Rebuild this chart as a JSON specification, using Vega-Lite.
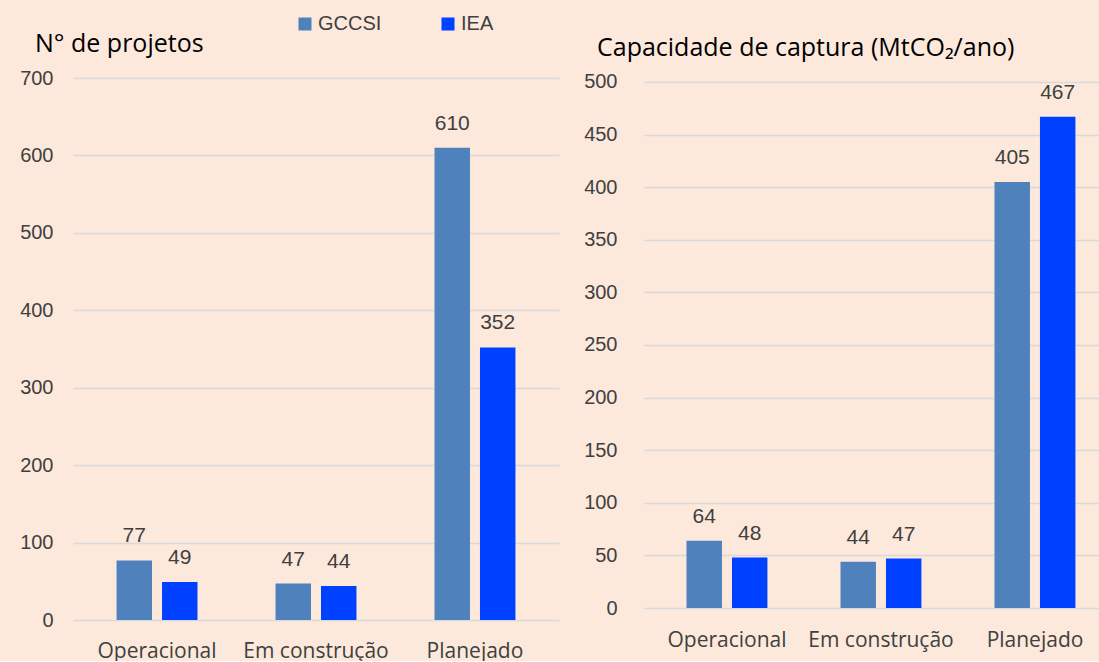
{
  "$schema": "https://vega.github.io/schema/vega-lite/v6.json",
  "background": "#FCE9DC",
  "padding": {"left": 19, "top": 14, "right": 0, "bottom": 0},
  "datasets": {
    "proj": [
      {"status": "Operacional", "fonte": "GCCSI", "valor": 77},
      {"status": "Operacional", "fonte": "IEA", "valor": 49},
      {"status": "Em construção", "fonte": "GCCSI", "valor": 47},
      {"status": "Em construção", "fonte": "IEA", "valor": 44},
      {"status": "Planejado", "fonte": "GCCSI", "valor": 610},
      {"status": "Planejado", "fonte": "IEA", "valor": 352}
    ],
    "cap": [
      {"status": "Operacional", "fonte": "GCCSI", "valor": 64},
      {"status": "Operacional", "fonte": "IEA", "valor": 48},
      {"status": "Em construção", "fonte": "GCCSI", "valor": 44},
      {"status": "Em construção", "fonte": "IEA", "valor": 47},
      {"status": "Planejado", "fonte": "GCCSI", "valor": 405},
      {"status": "Planejado", "fonte": "IEA", "valor": 467}
    ]
  },
  "spacing": 24,
  "hconcat": [
    {
      "width": 486,
      "height": 542,
      "data": {"name": "proj"},
      "title": {"text": "N° de projetos", "anchor": "start", "frame": "group", "dx": -38, "offset": 11, "font": "Open Sans", "fontSize": 25, "fontWeight": "normal", "color": "#000000"},
      "encoding": {
        "x": {"field": "status", "type": "nominal", "sort": ["Operacional", "Em construção", "Planejado"],
          "scale": {"paddingInner": 0.491, "paddingOuter": 0.274},
          "axis": {"title": null, "labelAngle": 0, "domain": false, "ticks": false, "labelFont": "Open Sans", "labelFontSize": 21, "labelColor": "#404040", "labelPadding": 20}},
        "xOffset": {"field": "fonte", "type": "nominal", "sort": ["GCCSI", "IEA"], "scale": {"paddingInner": 0.22, "paddingOuter": 0}},
        "y": {"field": "valor", "type": "quantitative", "scale": {"domain": [0, 700]},
          "axis": {"title": null, "values": [0, 100, 200, 300, 400, 500, 600, 700], "domain": false, "ticks": false, "labelFont": "Liberation Sans", "labelFontSize": 20, "labelColor": "#404040", "labelPadding": 20, "gridColor": "#D9D9D9", "gridWidth": 1.5}}
      },
      "layer": [
        {"mark": {"type": "bar"},
          "encoding": {"color": {"field": "fonte", "type": "nominal", "sort": ["GCCSI", "IEA"],
            "scale": {"domain": ["GCCSI", "IEA"], "range": ["#4F81BD", "#0041FF"]},
            "legend": {"orient": "none", "legendX": 222, "legendY": -64, "direction": "horizontal", "title": null, "symbolType": "square", "symbolSize": 169, "symbolStrokeWidth": 0, "labelFont": "Liberation Sans", "labelFontSize": 20, "labelColor": "#404040", "columnPadding": 56, "labelOffset": 3}}}},
        {"mark": {"type": "text", "baseline": "alphabetic", "dy": -18, "font": "Liberation Sans", "fontSize": 21, "color": "#404040"},
          "encoding": {"text": {"field": "valor", "type": "quantitative"}}}
      ]
    },
    {
      "width": 474,
      "height": 530,
      "data": {"name": "cap"},
      "title": {"text": "Capacidade de captura (MtCO₂/ano)", "anchor": "start", "frame": "group", "dx": -47, "offset": 11, "font": "Open Sans", "fontSize": 25, "fontWeight": "normal", "color": "#000000"},
      "encoding": {
        "x": {"field": "status", "type": "nominal", "sort": ["Operacional", "Em construção", "Planejado"],
          "scale": {"paddingInner": 0.474, "paddingOuter": 0.276},
          "axis": {"title": null, "labelAngle": 0, "domain": false, "ticks": false, "labelFont": "Open Sans", "labelFontSize": 21, "labelColor": "#404040", "labelPadding": 21}},
        "xOffset": {"field": "fonte", "type": "nominal", "sort": ["GCCSI", "IEA"], "scale": {"paddingInner": 0.2, "paddingOuter": 0}},
        "y": {"field": "valor", "type": "quantitative", "scale": {"domain": [0, 503.8], "nice": false},
          "axis": {"title": null, "values": [0, 50, 100, 150, 200, 250, 300, 350, 400, 450, 500], "domain": false, "ticks": false, "labelFont": "Liberation Sans", "labelFontSize": 20, "labelColor": "#404040", "labelPadding": 27, "gridColor": "#D9D9D9", "gridWidth": 1.5}}
      },
      "layer": [
        {"mark": {"type": "bar"},
          "encoding": {"color": {"field": "fonte", "type": "nominal", "sort": ["GCCSI", "IEA"],
            "scale": {"domain": ["GCCSI", "IEA"], "range": ["#4F81BD", "#0041FF"]}}}},
        {"mark": {"type": "text", "baseline": "alphabetic", "dy": -18, "font": "Liberation Sans", "fontSize": 21, "color": "#404040"},
          "encoding": {"text": {"field": "valor", "type": "quantitative"}}}
      ]
    }
  ],
  "config": {"view": {"stroke": null}}
}
